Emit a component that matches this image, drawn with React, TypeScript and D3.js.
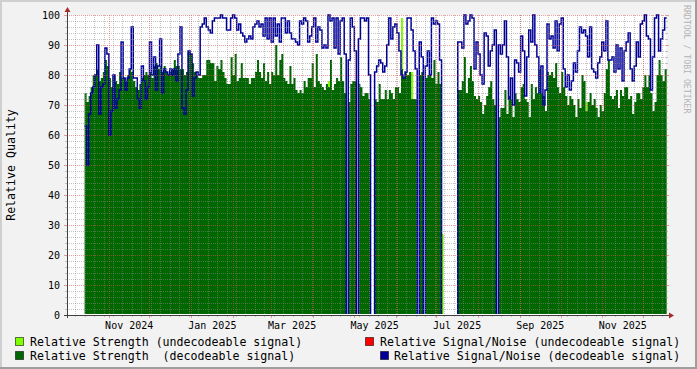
import React from 'react';
import * as d3 from 'd3';

const W = 697;
const H = 369;

// time layout of the samples (one sample every 36 hours)
const seriesStart = Date.UTC(2024, 9, 14);
const stepHours = 36;
const domainStart = new Date(Date.UTC(2024, 9, 1));
const domainEnd = new Date(Date.UTC(2025, 11, 18));

// Relative Strength (decodeable signal)
const strengthDecodeable: number[] = [
  74,71,73,76,80,80,82,78,79,81,
  85,83,79,76,80,78,77,81,79,79,
  78,80,82,81,78,76,75,77,79,80,
  81,80,81,79,83,84,82,83,81,83,
  81,80,81,82,85,83,83,82,82,80,
  81,88,87,84,81,80,79,79,
  80,80,
  85,85,84,84,78,83,82,85,81,79,
  77,77,86,80,87,78,79,84,79,79,
  79,77,79,79,81,85,81,79,84,78,
  81,77,81,80,90,80,85,87,79,78,
  77,83,77,79,75,74,75,74,78,76,
  79,79,84,76,87,78,
  77,76,75,77,
  76,85,75,77,79,78,86,78,74,0,
  71,77,78,78,0,77,76,73,74,74,
  72,0,0,72,71,77,72,72,75,72,
  75,74,72,76,76,74,82,79,81,80,
  81,72,72,72,0,80,81,0,79,80,
  80,79,85,77,
  81,77,
  0,0,0,0,0,0,0,0,
  75,75,78,86,74,79,
  83,78,73,72,73,71,67,70,73,76,
  78,72,70,0,66,69,69,75,67,73,
  72,66,74,72,71,76,77,72,71,66,
  77,72,76,74,82,74,73,68,81,80,
  81,79,84,
  76,74,81,76,73,70,73,
  72,70,66,72,69,80,78,68,71,74,
  70,72,69,66,70,68,74,82,85,73,
  72,73,75,69,75,73,76,76,72,73,
  67,71,74,74,72,76,80,76,80,74,
  68,71,80,85,80,78,82,
];

// Relative Signal/Noise (decodeable signal)
const snrDecodeable: number[] = [
  63,50,67,74,76,80,90,67,76,77,
  89,87,60,68,80,69,72,75,91,79,
  75,79,82,96,79,79,72,69,83,78,
  72,76,91,80,86,75,83,92,74,82,
  81,80,82,80,82,78,87,96,69,67,
  75,88,87,73,79,81,80,96,
  97,99,96,95,94,98,99,99,99,100,99,99,
  95,95,99,100,99,95,97,94,93,91,
  92,93,92,96,97,98,96,97,93,99,
  92,99,91,99,93,97,91,99,99,94,
  98,94,92,92,91,90,98,97,99,98,
  91,93,96,99,91,96,
  95,89,90,89,
  100,98,99,89,99,87,98,99,87,0,
  85,99,96,88,0,92,99,99,98,99,
  80,0,0,81,83,85,84,81,83,90,
  99,92,96,97,94,88,80,79,81,99,
  99,95,88,82,0,91,86,0,83,88,
  80,99,97,98,
  97,85,
  0,0,0,0,0,0,0,0,
  91,91,89,100,97,98,
  100,99,82,91,87,80,77,94,93,83,
  88,90,95,0,90,87,90,98,86,72,
  79,70,85,84,81,93,88,73,86,95,
  91,100,90,86,74,83,70,75,97,92,
  93,89,98,
  88,97,99,82,76,80,75,
  78,84,81,88,96,94,95,93,86,96,
  82,81,79,84,86,91,88,98,85,85,
  86,81,90,82,89,78,88,91,94,82,
  78,83,91,86,97,98,100,93,92,75,
  86,99,100,88,92,95,99,
];

// Relative Strength (undecodeable signal): sample index / value
const strengthUndecodeableIdx = [120, 156, 161, 176, 247];
const strengthUndecodeableVal = [78, 99, 81, 27, 71];

// Relative Signal/Noise (undecodeable signal): nothing visible
const snrUndecodeable: number[] = [];

const yTicks = [0, 10, 20, 30, 40, 50, 60, 70, 80, 90, 100];
const xLabelMonths = [
  [2024, 10], [2025, 0], [2025, 2], [2025, 4], [2025, 6], [2025, 8], [2025, 10],
];

const legendRow1 = ['Relative Strength (undecodeable signal)', 'Relative Signal/Noise (undecodeable signal)'];
const legendRow2 = ['Relative Strength  (decodeable signal)', 'Relative Signal/Noise (decodeable signal)'];

const C_LIME = '#80ff00';
const C_GREEN = '#006600';
const C_RED = '#ff0000';
const C_BLUE = '#000099';

const FONT = '"DejaVu Sans Mono", monospace';

const PL = 67, PR = 666, PT = 15, PB = 315;

export default function App() {
  const x = d3.scaleUtc().domain([domainStart, domainEnd]).range([PL, PR]);
  const y = d3.scaleLinear().domain([0, 100]).range([PB, PT]);

  const dateAt = (i: number) => new Date(seriesStart + i * stepHours * 3600 * 1000);

  type P = { i: number; v: number | null };
  const withEnd = (arr: (number | null)[]): P[] => {
    const pts = arr.map((v, i) => ({ i, v }));
    if (arr.length) pts.push({ i: arr.length, v: arr[arr.length - 1] });
    return pts;
  };

  const greenPts = withEnd(strengthDecodeable);
  const bluePts = withEnd(snrDecodeable);
  const redPts = withEnd(snrUndecodeable);
  const limeSegs: P[][] = strengthUndecodeableIdx.map((k, j) => [
    { i: k, v: strengthUndecodeableVal[j] },
    { i: k + 1, v: strengthUndecodeableVal[j] },
  ]);

  const area = d3.area<P>()
    .defined(d => d.v != null)
    .x(d => x(dateAt(d.i)))
    .y0(y(0))
    .y1(d => y(d.v as number))
    .curve(d3.curveStepAfter);

  const line = d3.line<P>()
    .defined(d => d.v != null)
    .x(d => x(dateAt(d.i)))
    .y(d => y(d.v as number))
    .curve(d3.curveStepAfter);

  const minorY = d3.range(0, 101, 2).filter(v => v % 10 !== 0);
  const majorY = yTicks;
  const months = d3.utcMonth.range(domainStart, domainEnd).filter(d => x(d) > PL + 1);
  const weeks = d3.utcMonday.range(domainStart, domainEnd).filter(d => x(d) > PL + 1);

  const px = (v: number) => Math.round(v) + 0.5;

  const minorCol = 'rgba(140,140,140,0.5)';
  const majorCol = 'rgba(222,80,80,0.55)';

  return (
    <svg width={W} height={H} style={{ position: 'fixed', left: 0, top: 0, display: 'block' }}
      fontFamily={FONT}>
      <defs>
        <clipPath id="plotclip">
          <rect x={PL + 1} y={PT - 5} width={PR - PL} height={PB - PT + 4} />
        </clipPath>
      </defs>
      <rect x={0} y={0} width={W} height={H} fill="#f2f2f2" />
      <rect x={0} y={0} width={W} height={2} fill="#cfcfcf" />
      <rect x={0} y={0} width={2} height={H} fill="#cfcfcf" />
      <rect x={0} y={H - 2} width={W} height={2} fill="#9e9e9e" />
      <rect x={W - 2} y={0} width={2} height={H} fill="#9e9e9e" />

      <rect x={PL} y={PT} width={PR - PL} height={PB - PT} fill="#ffffff" />

      <g clipPath="url(#plotclip)">
        {limeSegs.map((s, k) => (
          <path key={'l' + k} d={area(s) || ''} fill={C_LIME} />
        ))}
        <path d={area(greenPts) || ''} fill={C_GREEN} />
        <path d={line(redPts) || ''} fill="none" stroke={C_RED} strokeWidth={1.5} />
        <path d={line(bluePts) || ''} fill="none" stroke={C_BLUE} strokeWidth={1.5} />
      </g>

      <g shapeRendering="crispEdges">
        {weeks.map((d, k) => (
          <g key={'w' + k}>
            <line x1={px(x(d))} x2={px(x(d))} y1={PT} y2={PB} stroke={minorCol} strokeDasharray="1,1" />
            <line x1={px(x(d))} x2={px(x(d))} y1={PB} y2={PB + 2} stroke={minorCol} />
          </g>
        ))}
        {minorY.map(v => (
          <g key={'my' + v}>
            <line x1={PL} x2={PR} y1={px(y(v))} y2={px(y(v))} stroke={minorCol} strokeDasharray="1,1" />
            <line x1={PL - 2} x2={PL} y1={px(y(v))} y2={px(y(v))} stroke={minorCol} />
            <line x1={PR} x2={PR + 2} y1={px(y(v))} y2={px(y(v))} stroke={minorCol} />
          </g>
        ))}
        {months.map((d, k) => (
          <g key={'m' + k}>
            <line x1={px(x(d))} x2={px(x(d))} y1={PT} y2={PB} stroke={majorCol} strokeDasharray="1,1" />
            <line x1={px(x(d))} x2={px(x(d))} y1={PB} y2={PB + 3} stroke={majorCol} />
          </g>
        ))}
        {majorY.map(v => (
          <g key={'My' + v}>
            <line x1={PL} x2={PR} y1={px(y(v))} y2={px(y(v))} stroke={majorCol} strokeDasharray="1,1" />
            <line x1={PL - 3} x2={PL} y1={px(y(v))} y2={px(y(v))} stroke={majorCol} />
            <line x1={PR} x2={PR + 3} y1={px(y(v))} y2={px(y(v))} stroke={majorCol} />
          </g>
        ))}
      </g>

      <g shapeRendering="crispEdges">
        <line x1={PL - 3} x2={PR + 4} y1={PB + 0.5} y2={PB + 0.5} stroke="#404040" />
        <line x1={PL + 0.5} x2={PL + 0.5} y1={PB + 3} y2={PT - 4} stroke="#404040" />
      </g>
      <path d={`M${PR + 3},${PB - 2.5} L${PR + 8},${PB + 0.5} L${PR + 3},${PB + 3.5} Z`} fill="#a52a2a" />
      <path d={`M${PL - 2.5},${PT - 3} L${PL + 0.5},${PT - 8} L${PL + 3.5},${PT - 3} Z`} fill="#a52a2a" />

      {yTicks.map(v => (
        <text key={'yt' + v} x={60} y={y(v) + 3.5} fontSize={10} textAnchor="end" fill="#000">{v}</text>
      ))}
      {xLabelMonths.map(([yr, mo]) => {
        const a = Date.UTC(yr, mo, 1);
        const b = Date.UTC(yr, mo + 1, 1);
        const mid = new Date((a + b) / 2);
        return (
          <text key={'xl' + yr + mo} x={x(mid)} y={328.5} fontSize={10} textAnchor="middle" fill="#000">
            {d3.utcFormat('%b %Y')(new Date(a))}
          </text>
        );
      })}

      <text transform={`translate(15,${(PT + PB) / 2}) rotate(-90)`} fontSize={11.6} textAnchor="middle" fill="#000">
        Relative Quality
      </text>

      <text transform="translate(684,5) rotate(90)" fontSize={8.2} fill="#b4b4b4">RRDTOOL / TOBI OETIKER</text>

      <g fontSize={11.6} fill="#000">
        <rect x={15.5} y={337.5} width={8} height={8} fill={C_LIME} stroke="rgba(0,0,0,0.55)" />
        <text x={30} y={345.5} style={{ whiteSpace: 'pre' }}>{legendRow1[0]}</text>
        <rect x={365.5} y={337.5} width={8} height={8} fill={C_RED} stroke="rgba(0,0,0,0.55)" />
        <text x={380} y={345.5} style={{ whiteSpace: 'pre' }}>{legendRow1[1]}</text>
        <rect x={15.5} y={351.5} width={8} height={8} fill={C_GREEN} stroke="rgba(0,0,0,0.55)" />
        <text x={30} y={359.5} style={{ whiteSpace: 'pre' }}>{legendRow2[0]}</text>
        <rect x={380.5} y={351.5} width={8} height={8} fill={C_BLUE} stroke="rgba(0,0,0,0.55)" />
        <text x={394} y={359.5} style={{ whiteSpace: 'pre' }}>{legendRow2[1]}</text>
      </g>
    </svg>
  );
}
